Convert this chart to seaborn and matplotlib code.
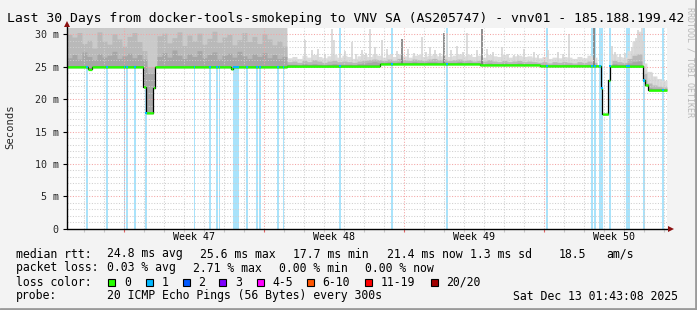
import numpy as np
import matplotlib
matplotlib.use("Agg")
import matplotlib.pyplot as plt
from matplotlib.patches import Rectangle
from matplotlib.lines import Line2D
import seaborn as sns
import pandas as pd

# ---------------- data ----------------
title = "Last 30 Days from docker-tools-smokeping to VNV SA (AS205747) - vnv01 - 185.188.199.42"
week_labels = ["Week 47", "Week 48", "Week 49", "Week 50"]
week_starts = [2.85, 9.85, 16.85, 23.85]          # days since left edge of graph
y_ticks = [0, 5, 10, 15, 20, 25, 30]
y_tick_labels = ["0", "5 m", "10 m", "15 m", "20 m", "25 m", "30 m"]

# median rtt (ms) as step series: change times (days) and values
median_t = [0.0, 1.05, 1.25, 3.82, 3.95, 4.32, 4.40, 8.2, 8.3, 11.0, 15.65, 20.65,
            23.65, 26.70, 26.77, 27.07, 27.15, 28.82, 28.90, 29.07, 30.0]
median_v = [25.0, 24.6, 25.0, 21.9, 17.9, 21.8, 25.0, 24.7, 25.0, 25.1, 25.45, 25.3,
            25.15, 21.7, 17.7, 22.9, 25.1, 22.9, 22.2, 21.4, 21.4]

# times (days) with 1/20 packet loss
loss_t = [0.985, 1.985, 2.875, 3.0, 3.4, 3.95, 6.375, 7.15, 7.485, 7.625, 8.365, 8.45,
          8.565, 9.015, 9.515, 9.65, 10.565, 10.825, 13.65, 16.235, 18.985, 23.985,
          26.235, 26.4, 26.65, 26.735, 27.15, 27.985, 28.115, 28.865, 29.815]

# smoke envelopes, one value per 6 h bin (ms)
smoke_hi = [
    31.5, 31.5, 31.5, 31.5, 31.5, 31.5, 31.5, 31.5, 31.5, 31.5, 31.5, 31.5, 31.5, 31.5, 31.5,
    31.5, 31.5, 31.5, 31.5, 31.5, 31.5, 31.5, 31.5, 31.5, 31.5, 31.5, 31.5, 31.5, 31.5, 31.5,
    31.5, 31.5, 31.5, 31.5, 31.5, 31.5, 31.5, 31.5, 31.5, 31.5, 31.5, 31.5, 31.5, 31.5,
    26.4, 26.6, 26.3, 26.8, 26.5, 26.9, 26.6, 26.4, 26.7, 26.9, 26.5, 26.8, 26.6, 26.3,
    26.7, 26.9, 26.6, 27.0, 26.8, 26.5, 26.9, 26.6, 27.0, 26.7, 26.5, 26.8, 26.9, 26.6,
    26.8, 27.0, 26.7, 26.9, 26.6, 26.8, 27.0, 26.7, 26.9, 26.6, 26.8, 26.5, 26.9, 26.7,
    26.6, 26.9, 26.5, 26.7, 26.8, 26.6, 26.7, 26.5, 26.4, 26.6, 26.3, 26.5, 26.4, 26.6,
    26.5, 26.3, 26.6, 26.4, 26.8, 26.5, 17.0, 17.0, 17.0, 27.0, 26.6, 26.5,
    27.5, 29.0, 30.5, 25.6, 24.3, 23.6, 23.2, 22.9]
smoke_mid = [
    30.0, 29.6, 30.3, 28.6, 29.1, 27.9, 30.4, 29.0, 28.5, 30.1, 29.3, 28.2, 29.7, 30.3, 28.9,
    27.5, 25.0, 25.0, 29.8, 30.2, 28.7, 29.5, 30.4, 28.3, 29.9, 29.0, 30.2, 28.5, 29.4, 30.5,
    28.8, 29.6, 30.0, 28.4, 29.2, 30.3, 28.9, 29.7, 28.6, 30.1, 29.3, 28.4, 29.0, 28.2,
    25.8, 25.9, 25.7, 26.0, 25.8, 26.1, 25.9, 25.7, 25.9, 26.0, 25.8, 25.9, 25.8, 25.7,
    25.9, 26.0, 26.1, 26.2, 26.1, 26.0, 26.2, 26.0, 26.3, 26.1, 26.0, 26.2, 26.1, 26.0,
    26.2, 26.3, 26.1, 26.2, 26.0, 26.1, 26.2, 26.0, 26.1, 25.9, 26.0, 25.9, 26.1, 25.9,
    25.8, 26.0, 25.8, 25.9, 26.0, 25.8, 25.9, 25.8, 25.7, 25.8, 25.6, 25.8, 25.7, 25.8,
    25.7, 25.6, 25.8, 25.7, 25.9, 25.7, 17.0, 17.0, 17.0, 26.0, 25.8, 25.7,
    26.3, 26.8, 27.0, 24.0, 22.5, 22.2, 22.0, 21.9]
smoke_lo = [
    26.4, 26.9, 26.2, 27.3, 26.6, 26.1, 27.0, 26.5, 26.8, 27.4, 26.3, 26.7, 27.1, 26.4, 26.9,
    26.2, 24.0, 24.0, 26.6, 27.2, 26.5, 27.6, 26.8, 26.3, 27.0, 26.6, 27.5, 26.4, 26.9, 27.3,
    26.2, 26.8, 27.1, 26.5, 27.4, 26.7, 26.3, 27.0, 26.6, 27.2, 26.4, 26.9, 26.3, 26.6,
    25.4, 25.4, 25.3, 25.5, 25.4, 25.5, 25.4, 25.3, 25.4, 25.5, 25.4, 25.4, 25.4, 25.3,
    25.5, 25.6, 25.7, 25.8, 25.7, 25.7, 25.8, 25.7, 25.8, 25.7, 25.7, 25.8, 25.7, 25.7,
    25.8, 25.8, 25.7, 25.8, 25.7, 25.7, 25.8, 25.6, 25.7, 25.6, 25.6, 25.5, 25.6, 25.5,
    25.5, 25.6, 25.5, 25.5, 25.6, 25.5, 25.5, 25.5, 25.4, 25.4, 25.3, 25.4, 25.3, 25.4,
    25.4, 25.3, 25.4, 25.3, 25.4, 25.3, 17.0, 17.0, 17.0, 25.5, 25.4, 25.4,
    25.6, 25.8, 25.9, 22.0, 21.8, 21.7, 21.7, 21.6]
smoke_bin = 0.25

# individual smoke spikes after the change (day, top ms)
spike_t = [11.9, 12.23, 12.55, 12.9, 13.23, 13.33, 13.65, 13.9, 14.23, 14.45, 14.73, 14.95,
           15.15, 15.4, 15.73, 15.98, 16.25, 16.5, 17.05, 17.35, 17.73, 17.95, 18.15, 18.4,
           18.65, 18.98, 19.2, 19.48, 19.82, 20.0, 20.5, 20.98, 21.3, 21.75, 22.05, 22.33,
           22.55, 22.83, 23.35, 23.55, 24.05, 24.55, 24.8, 25.12, 27.23, 27.4, 27.65, 27.9,
           28.25, 28.38, 28.45, 28.55, 28.65, 28.73, 28.8, 28.95, 29.1, 29.25, 29.4, 29.55,
           29.7, 29.85]
spike_top = [29.1, 27.6, 27.8, 27.0, 30.8, 29.1, 27.2, 27.5, 28.9, 27.0, 27.6, 27.2,
             30.9, 28.0, 29.1, 27.8, 27.0, 27.4, 27.8, 27.1, 29.6, 27.3, 28.0, 27.6,
             27.2, 30.2, 27.6, 28.2, 27.3, 30.2, 27.6, 27.8, 27.3, 28.0, 27.0, 26.8,
             26.9, 27.8, 27.3, 26.8, 27.6, 27.3, 27.0, 30.0, 28.2, 27.3, 27.0, 27.2,
             28.0, 28.8, 29.5, 30.7, 30.0, 31.5, 29.0, 24.5, 23.2, 24.0, 23.5, 23.0,
             22.6, 22.5]
dark_spike_t = [16.73, 18.86, 20.73, 26.37]
dark_spike_top = [29.3, 30.2, 30.9, 31.5]

loss_labels = ["0", "1", "2", "3", "4-5", "6-10", "11-19", "20/20"]
loss_colors = ["#26ff00", "#00b8ff", "#0059ff", "#7e00ff", "#ff00ff", "#ff5500", "#ff0000", "#a10000"]

# ---------------- figure ----------------
W, H = 697, 310
sns.set_theme(style="white")
plt.rcParams["font.family"] = ["DejaVu Sans Mono", "DejaVu Sans"]

fig = plt.figure(figsize=(W / 100, H / 100), dpi=100)
fig.patch.set_facecolor("#f3f3f3")

def fx(x):
    return x / W

def fy(y):
    return 1 - y / H

ax_left, ax_right, ax_top, ax_bot = 67, 667, 28, 228.7
ax = fig.add_axes([fx(ax_left), fy(ax_bot), (ax_right - ax_left) / W, (ax_bot - ax_top) / H])
ax.set_facecolor("white")
YMAX = 31.0
ax.set_xlim(0, 30)
ax.set_ylim(0, YMAX)

# fine grid for rendering step series
tt = np.linspace(0, 30, 6001)
def step_at(knots, vals, t):
    idx = np.searchsorted(np.asarray(knots), t, side="right") - 1
    idx = np.clip(idx, 0, len(vals) - 1)
    return np.asarray(vals)[idx]

smoke_t = np.arange(len(smoke_hi)) * smoke_bin
med = step_at(median_t, median_v, tt)
hi = np.maximum(step_at(smoke_t, smoke_hi, tt), med)
mid = np.maximum(step_at(smoke_t, smoke_mid, tt), med)
lo = np.maximum(step_at(smoke_t, smoke_lo, tt), med)

# loss bars (behind smoke)
ax.bar(loss_t, YMAX, width=0.085, color="#a9e3fb", linewidth=0, zorder=1)

# smoke
reg1 = tt <= 11.0
ax.fill_between(tt, med, hi, where=reg1, color="#cacaca", linewidth=0, zorder=2)
ax.fill_between(tt, med, hi, where=~reg1, color="#dcdcdc", linewidth=0, zorder=2)
med_sp = step_at(median_t, median_v, np.asarray(spike_t))
ax.vlines(spike_t, med_sp, spike_top, color="#d6d6d6", linewidth=1.2, zorder=2)
ax.fill_between(tt, med, mid, color="#b9b9b9", linewidth=0, zorder=3)
ax.fill_between(tt, med, lo, color="#a6a6a6", linewidth=0, zorder=3)
med_dk = step_at(median_t, median_v, np.asarray(dark_spike_t))
ax.vlines(dark_spike_t, med_dk, dark_spike_top, color="#7a7a7a", linewidth=1.2, zorder=3)

# grid (on top of smoke)
minor_kw = dict(color="#cfcfcf", linewidth=0.75, linestyle=(0, (1, 1.6)), zorder=4)
major_kw = dict(color="#f4a4a4", linewidth=0.75, linestyle=(0, (1, 1.6)), zorder=4)
for y in range(1, 31):
    if y % 5:
        ax.axhline(y, **minor_kw)
for y in [5, 10, 15, 20, 25, 30]:
    ax.axhline(y, **major_kw)
day_lines = [d for d in np.arange(week_starts[0] - 2, 30, 1.0) if d > 0.05]
for d in day_lines:
    if min(abs(d - w) for w in week_starts) > 0.01:
        ax.axvline(d, **minor_kw)
for w in week_starts:
    ax.axvline(w, **major_kw)

# median line
med_df = pd.DataFrame({"t": median_t, "v": median_v})
sns.lineplot(data=med_df, x="t", y="v", drawstyle="steps-post", color="black",
             linewidth=0.9, ax=ax, zorder=5, estimator=None, sort=False)
ax.fill_between(tt, med - 0.18, med + 0.18, color=loss_colors[0], linewidth=0, zorder=6)
med_loss = step_at(median_t, median_v, np.asarray(loss_t))
ax.bar(loss_t, 0.36, bottom=med_loss - 0.18, width=0.085, color=loss_colors[1], linewidth=0, zorder=7)

ax.set_xlabel("")
ax.set_ylabel("")

# axes
for s in ["top", "right", "left", "bottom"]:
    ax.spines[s].set_visible(False)
ax.plot([0, 0], [0, 31.55], color="black", linewidth=1.0, clip_on=False, zorder=8)
ax.plot([0, 30.1], [0, 0], color="black", linewidth=1.0, clip_on=False, zorder=8)
ax.plot([0], [31.65], marker="^", markersize=4.5, color="#8b1010", clip_on=False, zorder=9,
        markeredgewidth=0)
ax.plot([30.2], [0], marker=">", markersize=4.5, color="#8b1010", clip_on=False, zorder=9,
        markeredgewidth=0)

ax.set_yticks(y_ticks)
ax.set_yticklabels(y_tick_labels)
ax.tick_params(axis="y", direction="out", length=3, width=0.8, color="black", pad=3,
               labelsize=7.2, left=True)
ax.set_xticks(week_starts)
ax.set_xticklabels([])
ax.tick_params(axis="x", direction="out", length=2, width=0.8, color="#e06060", bottom=True)
ax.set_xticks(day_lines, minor=True)
ax.tick_params(axis="x", which="minor", direction="out", length=2, width=0.8, color="#c8c8c8", bottom=True)

wk_tr = matplotlib.transforms.blended_transform_factory(ax.transData, fig.transFigure)
for w, lab in zip(week_starts, week_labels):
    ax.text(w + 3.5, fy(237.5), lab, transform=wk_tr, ha="center", va="center",
            fontsize=7.2, color="black")

# text
fig.text(fx(346), fy(18.5), title, ha="center", va="center", fontsize=9.45, color="black")
fig.text(fx(10), fy(127), "Seconds", rotation=90, ha="center", va="center", fontsize=7.6)
fig.text(fx(690), fy(62), "RRDTOOL / TOBI OETIKER", rotation=270, ha="center", va="center",
         fontsize=6.0, color="#b8b8b8")

fs = 8.3
rows = [
    (254, [(16, "median rtt:"), (107.3, "24.8 ms avg"), (200, "25.6 ms max"), (293.3, "17.7 ms min"),
           (386.7, "21.4 ms now"), (470, "1.3 ms sd"), (558.3, "18.5"), (606.7, "am/s")]),
    (268, [(16, "packet loss:"), (107.3, "0.03 % avg"), (193.3, "2.71 % max"), (279.3, "0.00 % min"),
           (365, "0.00 % now")]),
    (282, [(16, "loss color:")]),
    (296, [(16, "probe:"), (107.3, "20 ICMP Echo Pings (56 Bytes) every 300s"),
           (513.3, "Sat Dec 13 01:43:08 2025")]),
]
for y, items in rows:
    for x, s in items:
        fig.text(fx(x), fy(y), s, ha="left", va="center", fontsize=fs, color="black")

box_x = [108.3, 145.7, 182.7, 219.3, 256.7, 306.7, 365, 430.7]
for bx, lab, col in zip(box_x, loss_labels, loss_colors):
    fig.add_artist(Rectangle((fx(bx), fy(285.8)), 7 / W, 7 / H, transform=fig.transFigure,
                             facecolor=col, edgecolor="black", linewidth=0.8))
    fig.text(fx(bx + 15.7), fy(282), lab, ha="left", va="center", fontsize=fs, color="black")

# 3D frame
fig.add_artist(Line2D([fx(695.5), fx(695.5)], [fy(0), fy(310)], transform=fig.transFigure,
                      color="#9a9a9a", linewidth=2))
fig.add_artist(Line2D([fx(0), fx(697)], [fy(308.5), fy(308.5)], transform=fig.transFigure,
                      color="#9a9a9a", linewidth=2))

fig.savefig("out.png", dpi=100, facecolor=fig.get_facecolor())
